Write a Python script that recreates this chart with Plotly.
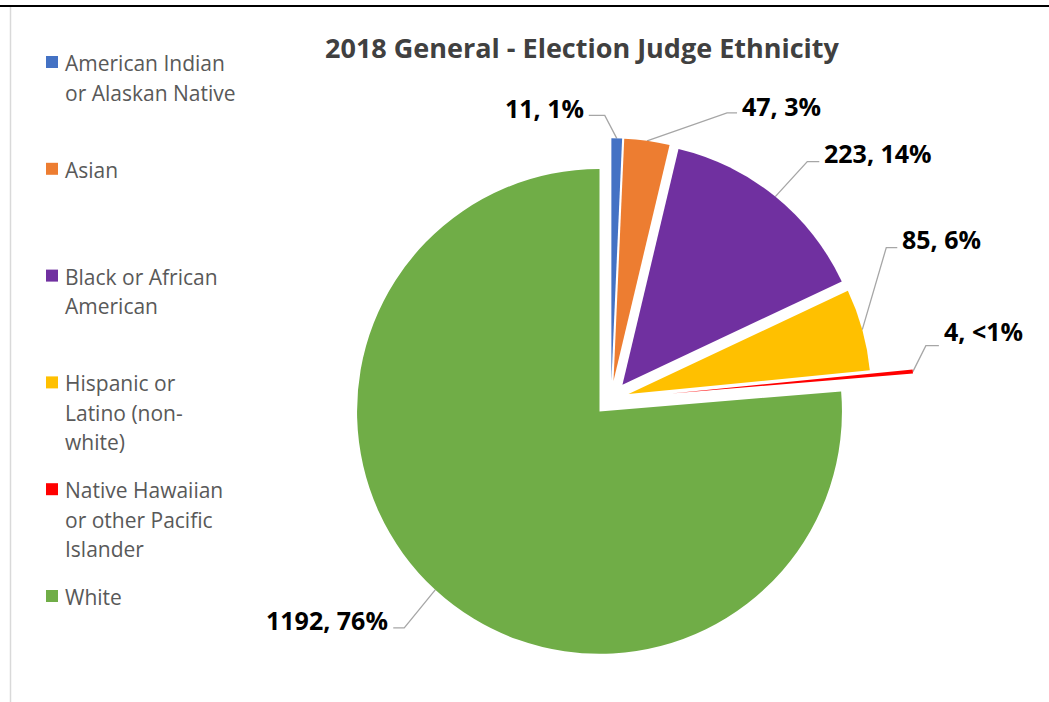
import plotly.graph_objects as go
import math

# --- data -------------------------------------------------------------
categories = [
    "American Indian or Alaskan Native",
    "Asian",
    "Black or African American",
    "Hispanic or Latino (non-white)",
    "Native Hawaiian or other Pacific Islander",
    "White",
]
counts = [11, 47, 223, 85, 4, 1192]
pct_labels = ["1%", "3%", "14%", "6%", "<1%", "76%"]
legend_lines = [
    ["American Indian", "or Alaskan Native"],
    ["Asian"],
    ["Black or African", "American"],
    ["Hispanic or", "Latino (non-", "white)"],
    ["Native Hawaiian", "or other Pacific", "Islander"],
    ["White"],
]
colors = ["#4472C4", "#ED7D31", "#7030A0", "#FFC000", "#FF0000", "#70AD47"]
title_text = "2018 General - Election Judge Ethnicity"

# --- layout constants (pixels) ---------------------------------------
W, H = 1049, 702
CX, CY, R = 611, 399, 242.5
pulls = [0.075, 0.075, 0.075, 0.075, 0.25, 0.07]
# leader line: elbow offset from slice anchor, horizontal tail, label vertical offset
leaders = [
    (-12, -23, -16, -7),
    (80, -28, 10, -7),
    (32, -35, 12, -9),
    (24, -82, 11, -9),
    (13, -26, 13, -15),
    (-31, 38, -11, -8),
]
LEADER_COLOR = "#A6A6A6"
TEXT_GRAY = "#595959"

max_pull = max(pulls)
half = R * (1 + max_pull)
dom_x = [(CX - half) / W, (CX + half) / W]
dom_y = [max(0.0, 1 - (CY + half) / H), 1 - (CY - half) / H]

fig = go.Figure()
fig.add_trace(go.Pie(
    labels=categories,
    values=counts,
    sort=False,
    direction="clockwise",
    rotation=0,
    pull=pulls,
    marker=dict(colors=colors, line=dict(width=0)),
    textinfo="none",
    hoverinfo="label+value+percent",
    showlegend=False,
    domain=dict(x=dom_x, y=dom_y),
))

# --- data labels with elbow leader lines ------------------------------
total = sum(counts)
cum = 0
annotations = []
for i, v in enumerate(counts):
    mid = 2 * math.pi * (cum + v / 2) / total
    cum += v
    rr = R * (1 + pulls[i])
    ax = CX + rr * math.sin(mid)
    ay = CY - rr * math.cos(mid)
    ex, ey, tail, ldy = leaders[i]
    bx, by = ax + ex, ay + ey
    tx = bx + tail
    fig.add_trace(go.Scatter(
        x=[ax, bx, tx], y=[ay, by, by], mode="lines",
        line=dict(color=LEADER_COLOR, width=1.3),
        hoverinfo="skip", showlegend=False,
    ))
    right_side = tail > 0
    annotations.append(dict(
        x=tx + (3 if right_side else -3), y=by + ldy, xref="x", yref="y",
        text=f"{v}, {pct_labels[i]}", showarrow=False,
        xanchor="left" if right_side else "right", yanchor="middle",
        font=dict(family="Open Sans", size=25, color="black", weight="bold"),
    ))

# --- legend drawn as squares and text ---------------------------------
LEG_X, LEG_Y0, LEG_STEP, LINE_STEP = 63, 62, 106.8, 29.5
shapes = []
for i, lines in enumerate(legend_lines):
    y0 = LEG_Y0 + i * LEG_STEP
    shapes.append(dict(
        type="rect", xref="x", yref="y",
        x0=46, x1=58, y0=y0 - 6, y1=y0 + 6,
        fillcolor=colors[i], line=dict(width=0),
    ))
    for j, line in enumerate(lines):
        annotations.append(dict(
            x=LEG_X, y=y0 + j * LINE_STEP + 1, xref="x", yref="y",
            text=line, showarrow=False, xanchor="left", yanchor="middle",
            font=dict(family="Open Sans", size=21, color=TEXT_GRAY),
        ))

# chart frame lines
shapes.append(dict(type="line", xref="x", yref="y", x0=0, x1=W, y0=6, y1=6,
                   line=dict(color="black", width=2)))
shapes.append(dict(type="line", xref="x", yref="y", x0=10.5, x1=10.5, y0=7, y1=H,
                   line=dict(color="#D9D9D9", width=1.5)))

fig.update_layout(
    width=W, height=H,
    margin=dict(l=0, r=0, t=0, b=0),
    paper_bgcolor="white", plot_bgcolor="white",
    xaxis=dict(range=[0, W], visible=False, fixedrange=True),
    yaxis=dict(range=[H, 0], visible=False, fixedrange=True),
    title=dict(
        text=title_text, x=582 / W, xanchor="center",
        y=1 - 49 / H, yanchor="middle", yref="container",
        font=dict(family="Open Sans", size=27, color="#404040", weight="bold"),
    ),
    annotations=annotations,
    shapes=shapes,
    showlegend=False,
)

fig.write_html("out.html")
